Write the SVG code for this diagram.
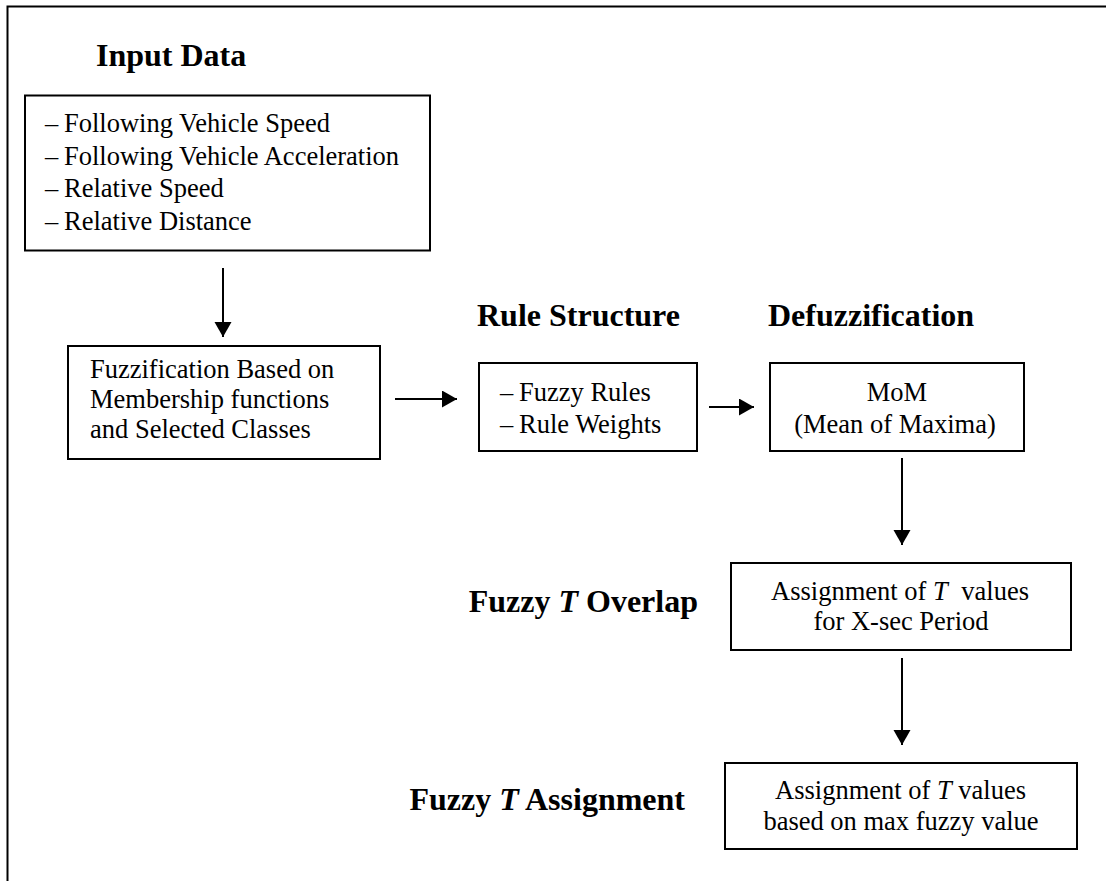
<svg xmlns="http://www.w3.org/2000/svg" width="1106" height="881" viewBox="0 0 1106 881">
<defs>
<style>
.box{fill:#fff;stroke:#000;stroke-width:2}
.t{font-family:"Liberation Serif","Times New Roman",serif;font-size:26.5px;fill:#000}
.h{font-family:"Liberation Serif","Times New Roman",serif;font-size:32px;font-weight:bold;fill:#000}
.c{stroke:#000;stroke-width:2;fill:none}
.i{font-style:italic}
</style>
<marker id="ah" markerWidth="16" markerHeight="18" refX="15" refY="8.5" orient="auto" markerUnits="userSpaceOnUse">
<path d="M0,0 L15,8.5 L0,17 Z" fill="#000"/>
</marker>
</defs>
<rect width="1106" height="881" fill="#fff"/>
<g id="frame"><path d="M7.5,881 L7.5,6.5 L1106,6.5" class="c"/></g>
<g id="titles">
<text class="h" x="96" y="66">Input Data</text>
<text class="h" x="477" y="326">Rule Structure</text>
<text class="h" x="768" y="326">Defuzzification</text>
<text class="h" x="698" y="612" text-anchor="end">Fuzzy <tspan class="i">T</tspan> Overlap</text>
<text class="h" x="685" y="810" text-anchor="end">Fuzzy <tspan class="i">T</tspan> Assignment</text>
</g>
<g id="input">
<rect class="box" x="25" y="95.5" width="405" height="155"/>
<text class="t" x="45" y="132">–<tspan x="64">Following Vehicle Speed</tspan></text>
<text class="t" x="45" y="164.5">–<tspan x="64">Following Vehicle Acceleration</tspan></text>
<text class="t" x="45" y="197">–<tspan x="64">Relative Speed</tspan></text>
<text class="t" x="45" y="229.5">–<tspan x="64">Relative Distance</tspan></text>
</g>
<g id="fuzzification">
<rect class="box" x="68" y="346" width="312" height="113"/>
<text class="t" x="90" y="378">Fuzzification Based on</text>
<text class="t" x="90" y="408">Membership functions</text>
<text class="t" x="90" y="438">and Selected Classes</text>
</g>
<g id="rules">
<rect class="box" x="479" y="363" width="218" height="88"/>
<text class="t" x="500" y="400.5">–<tspan x="519">Fuzzy Rules</tspan></text>
<text class="t" x="500" y="432.5">–<tspan x="519">Rule Weights</tspan></text>
</g>
<g id="defuzz">
<rect class="box" x="770" y="363" width="254" height="88"/>
<text class="t" x="897" y="400.5" text-anchor="middle">MoM</text>
<text class="t" x="895" y="432.5" text-anchor="middle">(Mean of Maxima)</text>
</g>
<g id="overlap">
<rect class="box" x="731" y="563" width="340" height="87"/>
<text class="t" x="771" y="600">Assignment of <tspan class="i">T</tspan><tspan dx="7"> values</tspan></text>
<text class="t" x="901" y="630" text-anchor="middle">for X-sec Period</text>
</g>
<g id="assignment">
<rect class="box" x="725" y="763" width="352" height="86"/>
<text class="t" x="775" y="799">Assignment of <tspan class="i">T</tspan> values</text>
<text class="t" x="901" y="830" text-anchor="middle">based on max fuzzy value</text>
</g>
<g id="connectors">
<line class="c" x1="223" y1="268" x2="223" y2="337" marker-end="url(#ah)"/>
<line class="c" x1="395" y1="399" x2="457" y2="399" marker-end="url(#ah)"/>
<line class="c" x1="709" y1="407" x2="754" y2="407" marker-end="url(#ah)"/>
<line class="c" x1="902" y1="458" x2="902" y2="545" marker-end="url(#ah)"/>
<line class="c" x1="902" y1="658" x2="902" y2="745" marker-end="url(#ah)"/>
</g>
</svg>
